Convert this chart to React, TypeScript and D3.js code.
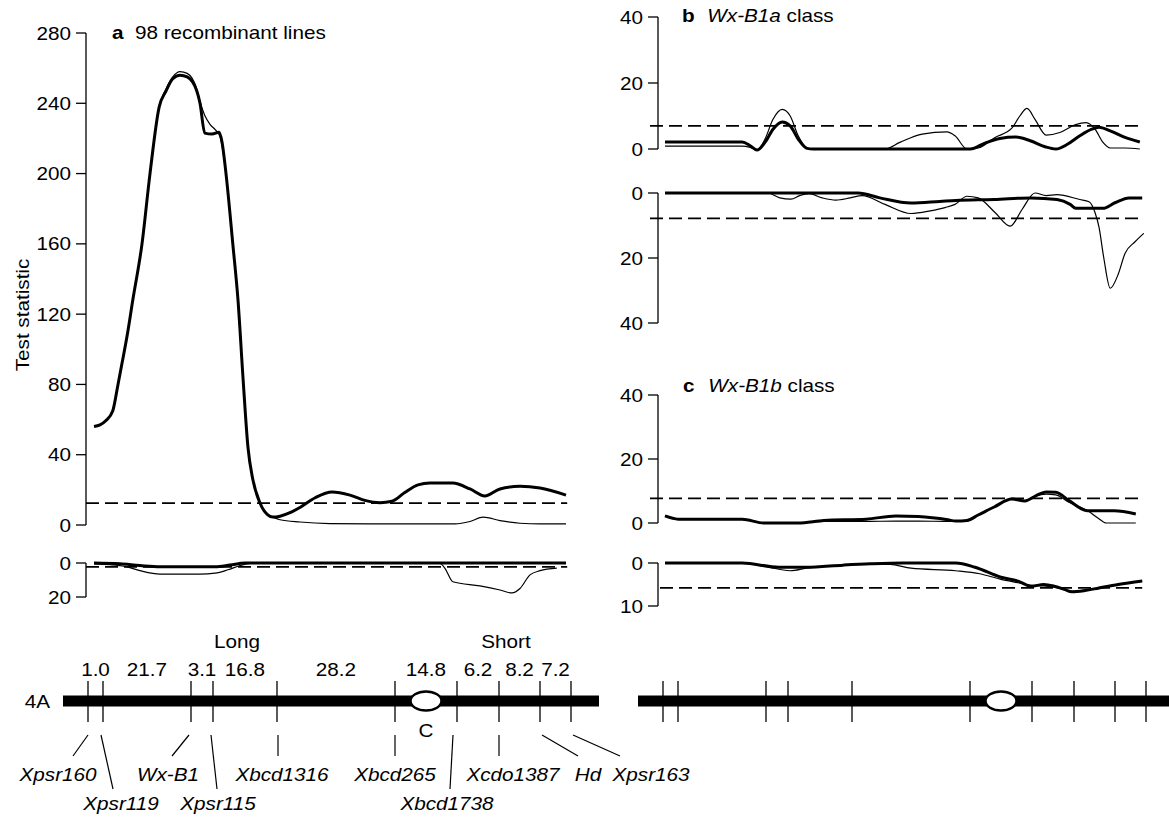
import React from "react";
import * as d3 from "d3";

const W = 1169;
const H = 817;

// genetic map of chromosome 4A (display map units, Xpsr160 = 0)
const markerNames = ["Xpsr160", "Xpsr119", "Wx-B1", "Xpsr115", "Xbcd1316", "Xbcd265", "Xbcd1738", "Xcdo1387", "Hd", "Xpsr163"];
const markerPos = [0, 3.75, 25.75, 31.25, 47.25, 76.75, 92.25, 102.75, 113, 120.75];
const intervalLabels = ["1.0", "21.7", "3.1", "16.8", "28.2", "14.8", "6.2", "8.2", "7.2"];
const centromerePos = 84.5;
const chromExtent = [-6.25, 127.75];
const armNames = ["Long", "Short"];
const armPos = [37.25, 104.5];

// a: 98 recombinant lines
const aUpThick = [[1.5, 56], [3, 57], [4.5, 59.5], [6.2, 65], [7.5, 80], [8.5, 92], [9.8, 108], [11.2, 128], [13.5, 160], [15.5, 200], [17.8, 238], [19.5, 247], [21.2, 254], [23, 256], [24.8, 255], [27.2, 247], [28, 240], [29.2, 223], [31, 222.5], [32.8, 223.5], [33.5, 218], [34.5, 200], [36.2, 160], [37.5, 128], [38.8, 82], [40, 44], [41.2, 26], [43, 12.5], [44.8, 6], [46.2, 4.5], [48, 5], [50.5, 7], [53, 10], [56.8, 15.5], [61, 18.8], [65.5, 17], [69.2, 14], [73, 12.7], [76, 13.5], [79.2, 18.5], [82.5, 22.8], [85.5, 23.9], [91.2, 23.9], [95.5, 20.5], [99.2, 16.5], [103, 20.5], [108, 22], [113, 21], [119.5, 17]];
const aUpThin = [[1.5, 56], [3, 57], [4.5, 59.5], [6.2, 65], [7.5, 80], [8.5, 92], [9.8, 108], [11.2, 128], [13.5, 160], [15.5, 200], [17.8, 238], [19.5, 248], [21.2, 255], [23, 258], [24.8, 257], [27.2, 248], [28, 241], [29.2, 233], [30.5, 228], [31.8, 225], [33, 221], [33.5, 216], [34.5, 200], [36.2, 160], [37.5, 128], [38.8, 82], [40, 44], [41.2, 26], [43, 12.5], [44.8, 6], [46.2, 4.5], [48, 3], [53, 1.7], [60.5, 0.8], [70.5, 0.6], [91.8, 0.6], [95.5, 2], [98.8, 4.5], [103, 2.5], [108, 1], [113, 0.6], [119.5, 0.6]];
const aLowThick = [[1.5, 0], [8, 0.5], [13, 1.5], [18, 2.2], [31.8, 2.2], [35.5, 1.2], [39.2, 0], [80, 0], [119.5, 0]];
const aLowThin = [[1.5, 0.5], [5.5, 1], [9.2, 2], [13, 4.5], [18, 6.5], [28, 6.5], [31.8, 6], [35, 4], [38, 1.5], [40.5, 0.3], [88, 0.3], [89.2, 3], [91.2, 11], [98, 13.5], [103, 15.9], [106, 17.6], [108, 15], [110.5, 7], [113, 4.5], [117.2, 3]];

// b: Wx-B1a class
const bUpThick = [[0.5, 2.1], [19.8, 2.1], [21.8, 1], [23.5, -0.3], [25.5, 2], [27.5, 6], [29.8, 8.2], [31.8, 7], [33.8, 3], [36, 0.2], [37.5, 0], [76.8, 0], [80.5, 1.8], [84.2, 3.2], [88.2, 3.6], [91.8, 2.5], [95.5, 0.7], [98.2, 0], [101.2, 1.5], [104.2, 4], [107.2, 6], [109, 6.6], [111.8, 5.5], [115.5, 3.5], [119.2, 2.1]];
const bUpThin = [[0.5, 0.9], [19.8, 0.9], [21.8, 0.5], [23.5, -0.3], [25.5, 3], [27.5, 9], [29.8, 12], [31.8, 10], [33.8, 4], [36, 0.3], [37.5, 0], [55.5, 0], [59.2, 2], [64.8, 4.5], [71, 5.2], [73, 4], [76, 0], [78.8, 0.3], [83, 3.5], [87.2, 6.3], [89.2, 10], [91, 12.3], [93, 9], [95.8, 4.2], [99.2, 5], [103, 7.3], [105.8, 8], [108, 6], [110, 2], [111.8, 0.3], [115.5, 0.3], [119.2, 0]];
const bLowThick = [[0.5, 0], [48.8, 0], [54.2, 1.5], [62, 3.1], [69.2, 2.6], [73.2, 2.3], [82.8, 2], [92, 1.5], [98.5, 2], [101.8, 3.5], [103.2, 4.7], [110, 4.7], [113, 3], [116.5, 1.5], [119.8, 1.5]];
const bLowThin = [[0.5, 0], [26.2, 0], [29.2, 1.5], [32, 1.9], [34.2, 0.8], [36.5, 0.2], [39.8, 1.5], [43.2, 2.2], [46.8, 1.5], [49.8, 0.8], [55.5, 3.5], [62, 6.3], [66.8, 5.5], [70.5, 4.5], [73, 3.5], [76, 1], [78.8, 1.5], [83, 6], [86.8, 10.2], [89.8, 5], [93, 0], [95.8, 0.8], [98.5, 0.5], [104.2, 2], [106.5, 2.7], [108, 6], [109, 10.5], [110.2, 20], [111.8, 29.3], [113.8, 25], [115.5, 18.6], [118, 15], [120.2, 12.4]];

// c: Wx-B1b class
const cUpThick = [[0.5, 2.2], [3.8, 1.2], [19.8, 1.2], [25.2, 0], [33.8, 0], [40.2, 0.8], [50.8, 1.2], [58.2, 2.2], [63.8, 2], [71.2, 1], [73.2, 0.6], [76, 0.8], [78.8, 2.5], [82.8, 5], [87.2, 7.5], [90.5, 6.9], [93.2, 8.5], [95.8, 9.7], [98.2, 9.6], [101.5, 7], [106.2, 3.8], [112.8, 3.8], [118.2, 2.8]];
const cUpThin = [[0.5, 2.2], [3.8, 1.2], [19.8, 1.2], [25.2, 0], [33.8, 0], [40.2, 0.5], [50.8, 0.5], [58.2, 0.6], [63.8, 0.6], [71.2, 0.5], [73.2, 0.6], [76, 0.8], [78.8, 2.5], [82.8, 5], [87.2, 7.5], [90.5, 7], [93.2, 8.5], [95.8, 9], [98.2, 8.8], [101.5, 6.5], [106.2, 3.8], [108.8, 1.5], [110.8, 0], [118.2, 0]];
const cLowThick = [[0.5, 0], [19.8, 0], [29, 1], [35.8, 1], [45, 0.5], [51.8, 0.2], [60, 0], [73.2, 0], [78, 1], [84.5, 3.3], [88.8, 4.2], [92, 5.4], [95.2, 5], [97.8, 5.4], [100.5, 6.2], [102.2, 6.7], [105.5, 6.4], [109, 5.8], [113.8, 5], [119.8, 4.2]];
const cLowThin = [[0.5, 0], [19.8, 0], [25.5, 0.8], [31.8, 1.8], [35.8, 1.2], [45, 0.5], [51.8, 0.2], [56.8, 0.3], [62, 1.2], [73.2, 1.8], [79.2, 2.5], [84.5, 3.8], [88.8, 4.6], [92, 5.2], [95.2, 5.3], [97.8, 5.6], [100.5, 6.2], [102.2, 6.6], [105.5, 6.3], [109, 5.8], [113.8, 5], [119.8, 4.2]];

// significance thresholds
const thresholds = { aUp: 12.5, aLow: 2.3, bUp: 7, bLow: 7.8, cUp: 7.7, cLow: 5.8 };

const SX = 1.15; // the original lettering is wider than Arial
const FONT = "'Liberation Sans', Arial, Helvetica, sans-serif";

const xMap = d3.scaleLinear().domain([0, 120]).range([88, 568]);
const RIGHT = 575;

function T({ x, y, anchor = "start", children, ...rest }: any) {
  return (
    <text transform={`translate(${x},${y}) scale(${SX},1)`} textAnchor={anchor} {...rest}>
      {children}
    </text>
  );
}

function Axis({ x, scale, ticks }: any) {
  const [r0, r1] = scale.range();
  return (
    <g>
      <line x1={x} x2={x} y1={r0} y2={r1} stroke="#000" strokeWidth={1.3} />
      {ticks.map((t: number) => (
        <g key={t}>
          <line x1={x - 10} x2={x} y1={scale(t)} y2={scale(t)} stroke="#000" strokeWidth={1.3} />
          <T x={x - 15} y={scale(t) + 6.5} anchor="end">{t}</T>
        </g>
      ))}
    </g>
  );
}

function Curves({ y, shift, thick, thin, thr, x0 }: any) {
  const line = d3
    .line<number[]>()
    .x((d) => xMap(d[0]) + shift)
    .y((d) => y(d[1]))
    .curve(d3.curveMonotoneX);
  return (
    <g fill="none" stroke="#000">
      <line x1={x0} x2={xMap(119.8) + shift} y1={y(thr)} y2={y(thr)} strokeWidth={1.8} strokeDasharray="13,6" />
      <path d={line(thin) || ""} strokeWidth={1.2} />
      <path d={line(thick) || ""} strokeWidth={3} strokeLinejoin="round" />
    </g>
  );
}

// leader lines and label placement (layout only)
const labelLayout = [
  { dx: -30, row: 0, l0: 0, l1: -15 },
  { dx: 18, row: 1, l0: -2, l1: 10 },
  { dx: -23, row: 0, l0: -2, l1: -19 },
  { dx: 5, row: 1, l0: -2, l1: 4 },
  { dx: 5, row: 0, l0: 1, l1: 1 },
  { dx: 0, row: 0, l0: 0, l1: 0 },
  { dx: -10, row: 1, l0: -4, l1: -7 },
  { dx: 14, row: 0, l0: 0, l1: 0 },
  { dx: 48, row: 0, l0: 2, l1: 38 },
  { dx: 80, row: 0, l0: 2, l1: 49 },
];

function Chromosome({ shift, labels }: any) {
  const cy = 701;
  const px = (u: number) => xMap(u) + shift;
  return (
    <g>
      <rect x={px(chromExtent[0])} width={px(chromExtent[1]) - px(chromExtent[0])} y={cy - 5.5} height={11} fill="#000" />
      {markerPos.map((m, i) => (
        <line key={i} x1={px(m)} x2={px(m)} y1={681} y2={722} stroke="#000" strokeWidth={1.3} />
      ))}
      <ellipse cx={px(centromerePos)} cy={cy} rx={15.5} ry={9.5} fill="#fff" stroke="#000" strokeWidth={2.5} />
      {labels && (
        <g>
          <T x={50} y={cy + 6.5} anchor="end">4A</T>
          {armNames.map((a, i) => (
            <T key={a} x={px(armPos[i])} y={648} anchor="middle">{a}</T>
          ))}
          {intervalLabels.map((l, i) => (
            <T key={i} x={(px(markerPos[i]) + px(markerPos[i + 1])) / 2} y={676} anchor="middle">{l}</T>
          ))}
          <T x={px(centromerePos)} y={737} anchor="middle">C</T>
          {markerNames.map((n, i) => {
            const lay = labelLayout[i];
            const m = px(markerPos[i]);
            const yEnd = lay.row === 0 ? 756 : 789;
            return (
              <g key={n}>
                <line x1={m + lay.l0} y1={735} x2={m + lay.l1} y2={yEnd} stroke="#000" strokeWidth={1.2} />
                <T x={m + lay.dx} y={lay.row === 0 ? 781 : 810} anchor="middle" fontStyle="italic">{n}</T>
              </g>
            );
          })}
        </g>
      )}
    </g>
  );
}

export default function App() {
  const yAUp = d3.scaleLinear().domain([0, 280]).range([525, 33]);
  const yALow = d3.scaleLinear().domain([0, 20]).range([563, 597]);
  const yBUp = d3.scaleLinear().domain([0, 40]).range([149, 17]);
  const yBLow = d3.scaleLinear().domain([0, 40]).range([193, 323]);
  const yCUp = d3.scaleLinear().domain([0, 40]).range([523, 395]);
  const yCLow = d3.scaleLinear().domain([0, 10]).range([563, 606]);
  const axA = 86;
  const axR = 658;

  return (
    <svg
      width={W}
      height={H}
      viewBox={`0 0 ${W} ${H}`}
      style={{ position: "absolute", left: 0, top: 0, background: "#fff" }}
      fontFamily={FONT}
      fontSize={18}
    >
      <rect width={W} height={H} fill="#fff" />

      {/* panel a */}
      <Axis x={axA} scale={yAUp} ticks={d3.range(0, 281, 40)} />
      <Axis x={axA} scale={yALow} ticks={[0, 20]} />
      <Curves y={yAUp} shift={0} thick={aUpThick} thin={aUpThin} thr={thresholds.aUp} x0={axA} />
      <Curves y={yALow} shift={0} thick={aLowThick} thin={aLowThin} thr={thresholds.aLow} x0={axA} />
      <text transform={`translate(29,315) rotate(-90) scale(${SX},1)`} textAnchor="middle">Test statistic</text>
      <T x={112} y={39}>
        <tspan fontWeight="bold">a</tspan>
        <tspan dx={10}>98 recombinant lines</tspan>
      </T>

      {/* panel b */}
      <Axis x={axR} scale={yBUp} ticks={[0, 20, 40]} />
      <Axis x={axR} scale={yBLow} ticks={[0, 20, 40]} />
      <Curves y={yBUp} shift={RIGHT} thick={bUpThick} thin={bUpThin} thr={thresholds.bUp} x0={axR - 8} />
      <Curves y={yBLow} shift={RIGHT} thick={bLowThick} thin={bLowThin} thr={thresholds.bLow} x0={axR - 8} />
      <T x={682} y={22}>
        <tspan fontWeight="bold">b</tspan>
        <tspan dx={11} fontStyle="italic">Wx-B1a</tspan>
        <tspan> class</tspan>
      </T>

      {/* panel c */}
      <Axis x={axR} scale={yCUp} ticks={[0, 20, 40]} />
      <Axis x={axR} scale={yCLow} ticks={[0, 10]} />
      <Curves y={yCUp} shift={RIGHT} thick={cUpThick} thin={cUpThin} thr={thresholds.cUp} x0={axR - 8} />
      <Curves y={yCLow} shift={RIGHT} thick={cLowThick} thin={cLowThin} thr={thresholds.cLow} x0={axR + 2} />
      <T x={683} y={392}>
        <tspan fontWeight="bold">c</tspan>
        <tspan dx={12} fontStyle="italic">Wx-B1b</tspan>
        <tspan> class</tspan>
      </T>

      {/* chromosome maps */}
      <Chromosome shift={0} labels={true} />
      <Chromosome shift={RIGHT} labels={false} />
    </svg>
  );
}
